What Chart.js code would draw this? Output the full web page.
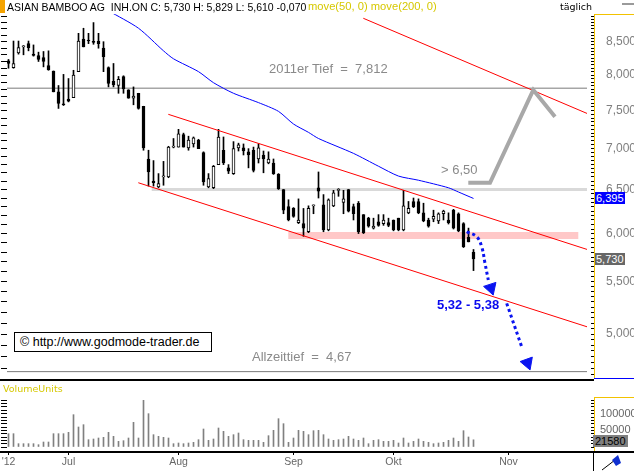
<!DOCTYPE html>
<html>
<head>
<meta charset="utf-8">
<script src="https://cdn.jsdelivr.net/npm/chart.js@4.4.1/dist/chart.umd.min.js"></script>
<style>
  body { margin: 0; background: #fff; }
  #page { position: relative; width: 634px; height: 471px; overflow: hidden; background: #fff;
          font-family: "Liberation Sans", Arial, sans-serif; }
  .abs { position: absolute; white-space: pre; line-height: 1; z-index: 2; }
  .small { font-family: "DejaVu Sans", sans-serif; font-size: 9.5px; }
  .note { font-size: 13px; color: #8a8a8a; }
  .tag { font-size: 11px; height: 12px; line-height: 12px; padding: 0 1px; }
  canvas { position: absolute; left: 0; }
</style>
</head>
<body>
<div id="page">
  <div class="abs" style="left:0;top:0;width:5px;height:13px;background:#f5a300"></div>
  <div class="abs" style="left:7px;top:2px;color:#000;font-size:10.5px">ASIAN BAMBOO AG  INH.ON C: 5,730 H: 5,829 L: 5,610 -0,070</div>
  <div class="abs" style="left:308px;top:1px;color:#d6c800;font-size:11.2px">move(50, 0) move(200, 0)</div>
  <div class="abs small" style="left:560px;top:2px;color:#000">täglich</div>
  <div class="abs" style="left:622px;top:3px;width:12px;height:2px;background:#9a9a9a"></div>

  <div class="abs" style="left:594px;top:14px;width:40px;height:1px;background:#f2c200"></div>
  <div class="abs" style="left:594px;top:378px;width:40px;height:1px;background:#0000ff"></div>
  <div class="abs" style="left:0;top:379px;width:594px;height:2px;background:#000"></div>
  <div class="abs small" style="left:3px;top:384px;color:#d6c800">VolumeUnits</div>
  <div class="abs" style="left:594px;top:397px;width:40px;height:1px;background:#f2c200"></div>
  <div class="abs" style="left:0;top:451px;width:634px;height:2px;background:#000"></div>
  <div class="abs" style="left:593px;top:451px;width:1px;height:20px;background:#000"></div>
  <svg class="abs" style="left:600px;top:454px" width="30" height="17">
    <line x1="2" y1="16" x2="15" y2="6" stroke="#000" stroke-width="1"/>
    <polygon points="12,6 18,1 21,9 16,12" fill="#1030d0"/>
  </svg>

  <div class="abs note" style="left:269px;top:62px">2011er Tief  =  7,812</div>
  <div class="abs note" style="left:441px;top:163px">&gt; 6,50</div>
  <div class="abs note" style="left:252px;top:350px">Allzeittief  =  4,67</div>
  <div class="abs" style="left:437px;top:298px;font-size:13px;font-weight:bold;color:#0a0aee">5,32 - 5,38</div>
  <div class="abs" style="left:14px;top:332px;width:191px;height:18px;border:1px solid #000;background:#fff;font-size:12.5px;line-height:18px;padding-left:5px;box-sizing:content-box">© http://www.godmode-trader.de</div>

  <div id="tagMa" class="abs tag" style="left:595px;background:#0000ff;color:#fff"></div>
  <div id="tagLast" class="abs tag" style="left:595px;background:#676767;color:#fff"></div>
  <div id="tagVol" class="abs tag" style="left:593px;background:#808080;color:#000;padding:0 2px"></div>

  <canvas id="priceChart" width="634" height="365" style="top:14px"></canvas>
  <canvas id="volChart" width="634" height="89" style="top:382px"></canvas>
</div>
<script>
// trading days from 14 Jun 2012; month labels sit on the first trading day of each month
const monthLabels = ["'12", 'Jul', 'Aug', 'Sep', 'Okt', 'Nov'];
const monthStart = [0, 12, 34, 57, 77, 100];

const opens = [8.21, 8.11, 8.33, 8.42, 8.47, 8.31, 8.29, 8.26, 8.14, 8.06,
  7.76, 7.59, 7.66, 7.68, 8.05, 8.54, 8.52, 8.50, 8.51, 8.40,
  8.11, 7.91, 7.85, 7.98, 7.79, 7.67, 7.74, 7.56, 6.87, 6.60,
  6.53, 6.65, 6.65, 7.02, 7.02, 7.18, 7.01, 7.06, 7.11, 6.95,
  6.53, 6.52, 6.80, 6.98, 6.76, 6.69, 7.01, 7.01, 6.96, 6.98,
  6.87, 6.92, 6.82, 6.82, 6.68, 6.50, 6.30, 6.28, 6.12, 6.11,
  6.02, 6.31, 6.52, 6.32, 6.04, 6.31, 6.49, 6.35, 6.50, 6.30,
  6.34, 6.21, 6.17, 6.06, 6.13, 6.11, 6.12, 6.15, 6.17, 6.04,
  6.23, 6.36, 6.36, 6.23, 6.15, 6.16, 6.14, 6.22, 6.15, 6.26,
  6.22, 6.11, 5.96, 5.80];
const highs = [8.23, 8.51, 8.51, 8.44, 8.51, 8.45, 8.34, 8.35, 8.36, 8.06,
  7.85, 8.01, 7.95, 8.07, 8.63, 8.71, 8.63, 8.80, 8.63, 8.50,
  8.12, 8.17, 7.98, 7.99, 7.79, 7.83, 7.74, 7.56, 6.98, 6.85,
  6.69, 6.84, 7.03, 7.13, 7.25, 7.20, 7.16, 7.15, 7.12, 6.96,
  6.69, 6.79, 7.25, 7.15, 6.80, 7.09, 7.07, 7.06, 7.00, 7.02,
  7.06, 6.97, 6.96, 6.87, 6.69, 6.50, 6.38, 6.29, 6.39, 6.28,
  6.31, 6.32, 6.71, 6.44, 6.39, 6.49, 6.51, 6.49, 6.50, 6.33,
  6.36, 6.21, 6.18, 6.17, 6.21, 6.21, 6.17, 6.15, 6.17, 6.49,
  6.36, 6.40, 6.39, 6.34, 6.17, 6.26, 6.23, 6.26, 6.23, 6.27,
  6.23, 6.12, 6.06, 5.829];
const lows = [8.10, 8.10, 8.31, 8.30, 8.36, 8.28, 8.20, 8.12, 8.07, 7.76,
  7.53, 7.57, 7.62, 7.68, 8.05, 8.42, 8.47, 8.46, 8.40, 8.05,
  7.83, 7.83, 7.74, 7.74, 7.67, 7.58, 7.52, 6.98, 6.54, 6.54,
  6.52, 6.55, 6.64, 7.01, 7.02, 7.02, 6.98, 7.02, 7.00, 6.55,
  6.52, 6.51, 6.80, 6.80, 6.69, 6.68, 6.97, 6.92, 6.76, 6.71,
  6.82, 6.70, 6.81, 6.68, 6.50, 6.22, 6.14, 6.18, 6.11, 5.97,
  6.01, 6.22, 6.40, 6.02, 6.03, 6.30, 6.42, 6.22, 6.24, 6.15,
  6.00, 6.00, 6.07, 6.05, 6.08, 6.09, 6.075, 6.03, 6.03, 6.03,
  6.22, 6.29, 6.22, 6.13, 6.07, 6.13, 6.11, 6.15, 6.105, 6.05,
  6.02, 5.85, 5.91, 5.61];
const closes = [8.17, 8.17, 8.41, 8.43, 8.41, 8.29, 8.23, 8.20, 8.08, 7.76,
  7.60, 7.58, 7.63, 8.00, 8.51, 8.42, 8.51, 8.49, 8.47, 8.27,
  7.88, 7.86, 7.94, 7.80, 7.67, 7.70, 7.53, 7.01, 6.71, 6.58,
  6.57, 6.66, 7.02, 7.03, 7.19, 7.02, 7.11, 7.14, 7.00, 6.59,
  6.63, 6.78, 7.15, 6.82, 6.72, 7.00, 7.05, 6.97, 6.92, 6.73,
  7.01, 6.87, 6.87, 6.69, 6.51, 6.26, 6.15, 6.19, 6.15, 6.06,
  6.28, 6.32, 6.48, 6.04, 6.38, 6.46, 6.50, 6.39, 6.25, 6.22,
  6.02, 6.01, 6.08, 6.08, 6.09, 6.15, 6.09, 6.04, 6.04, 6.31,
  6.28, 6.30, 6.23, 6.14, 6.08, 6.19, 6.22, 6.25, 6.12, 6.06,
  6.03, 5.86, 5.91, 5.73];
const volumes = [40000, 40000, 10000, 10000, 10000, 10000, 7000, 15000, 15000, 40000,
  40000, 40000, 44000, 97000, 60000, 67000, 22000, 24000, 27000, 29000,
  44000, 32000, 17000, 19000, 27000, 74000, 27000, 140000, 100000, 37000,
  32000, 29000, 27000, 10000, 12000, 10000, 12000, 14000, 22000, 54000,
  20000, 24000, 57000, 47000, 32000, 37000, 42000, 22000, 20000, 20000,
  20000, 14000, 34000, 50000, 85000, 70000, 14000, 27000, 50000, 47000,
  37000, 49000, 50000, 37000, 24000, 20000, 22000, 24000, 32000, 24000,
  20000, 27000, 10000, 20000, 22000, 17000, 17000, 20000, 12000, 27000,
  12000, 17000, 24000, 17000, 14000, 10000, 12000, 14000, 20000, 27000,
  17000, 49000, 30000, 21580];

// 50-day moving average
const maIndex = [20, 26, 31, 33, 38, 41, 45, 50, 54, 57, 60, 62, 69, 74, 78, 82, 88, 90, 93];
const ma50 = [8.99, 8.71, 8.36, 8.24, 8.05, 7.89, 7.74, 7.61, 7.49, 7.32, 7.21, 7.13, 6.94, 6.78, 6.66, 6.61, 6.52, 6.47, 6.395];

const priceLabels = [5, 5.5, 6, 6.5, 7, 7.5, 8, 8.5];
const volumeLabels = [50000, 100000];

// drawn analysis: [trading-day index, price]
const tief2011 = [[-0.3, 7.812], [115.7, 7.812]];
const allzeittief = [[-0.3, 4.67], [115.7, 4.67]];
const channelUpper = [[31.96, 7.45], [115.7, 5.83]];
const channelLower = [[25.96, 6.58], [115.7, 5.066]];
const channelTop = [[70.96, 8.869], [115.7, 7.462]];
const zone650 = [[28.64, 6.5], [115.7, 6.5]];
const zone600 = [[55.96, 5.98], [113.96, 5.98]];
const pathUp = [[91.96, 6.58], [96.3, 6.58], [104.96, 7.787], [109.3, 7.418]];
const pathDown1 = [[91.64, 6.02], [93.64, 5.965], [94.64, 5.858], [95.3, 5.685], [95.96, 5.515]];
const pathDown2 = [[99.64, 5.286], [102.64, 4.886]];
const arrowHeads = [[96.48, 5.436], [103.8, 4.745]];

const X_MIN = -0.3, X_MAX = 117.1;
const P_MIN = 4.608, P_MAX = 8.938;

Chart.defaults.font.family = '"Liberation Sans", Arial, sans-serif';

const idx = closes.map((_, i) => i);
const xy = (pts) => pts.map(([x, y]) => ({ x, y }));
const fmt = (v, d) => v.toFixed(d).replace('.', ',');

function lineSet(pts, color, width, order, extra) {
    return Object.assign({
        type: 'line', data: xy(pts), borderColor: color, borderWidth: width,
        pointRadius: 0, tension: 0, fill: false, order,
    }, extra || {});
}

const rightTicks = [];
for (let v = 465; v <= 890; v += 5) rightTicks.push(v / 100);
const leftTicks = [];
for (let v = 47; v <= 89; v++) leftTicks.push(v / 10);

function yAxis(side, ticks, labels) {
    const right = side === 'right';
    return {
        type: 'logarithmic', position: side, min: P_MIN, max: P_MAX, bounds: 'data',
        afterBuildTicks: (s) => { s.ticks = ticks.map((v) => ({ value: v })); },
        afterFit: (s) => { s.width = right ? 40 : 7; s.paddingTop = 0; s.paddingBottom = 0; },
        ticks: {
            autoSkip: false, padding: right ? 15 : 0, color: '#7f7f7f', font: { size: 12 },
            callback: (v) => (labels && labels.includes(Math.round(v * 100) / 100) ? fmt(v, 3) : ''),
        },
        grid: { drawOnChartArea: false, tickLength: right ? -3 : 6, color: '#000' },
        border: { display: right, color: '#f2c200', width: 1 },
    };
}

const xBase = { type: 'linear', min: X_MIN, max: X_MAX, bounds: 'data', offset: false };

const priceChart = new Chart(document.getElementById('priceChart'), {
    type: 'bar',
    data: {
        datasets: [
            {
                type: 'bar', data: idx.map((i) => ({ x: i, y: [opens[i], closes[i]] })),
                backgroundColor: idx.map((i) => (closes[i] >= opens[i] ? '#fff' : '#000')),
                borderColor: '#000', borderWidth: 1, borderSkipped: false,
                barThickness: 3, minBarLength: 1, grouped: false, order: 0,
            },
            {
                type: 'bar', data: idx.map((i) => ({ x: i, y: [lows[i], highs[i]] })),
                backgroundColor: '#000', barThickness: 1, grouped: false, order: 1,
            },
            lineSet(zone600, '#ffc8c8', 7, 10),
            lineSet(zone650, '#d9d9d9', 3, 10),
            lineSet(tief2011, '#7a7a7a', 1, 6),
            lineSet(allzeittief, '#7a7a7a', 1, 6),
            lineSet(maIndex.map((x, k) => [x, ma50[k]]), '#0000ff', 1, 5, { tension: 0.25 }),
            lineSet(channelUpper, '#ff0000', 1, -1),
            lineSet(channelLower, '#ff0000', 1, -1),
            lineSet(channelTop, '#ff0000', 1, -1),
            lineSet(pathUp, '#a8a8a8', 4, -2, { borderJoinStyle: 'miter' }),
            lineSet(pathDown1, '#0a14f0', 3, -3, { borderDash: [3, 3], tension: 0.4 }),
            lineSet(pathDown2, '#0a14f0', 3, -3, { borderDash: [3, 3] }),
            {
                type: 'line', data: xy(arrowHeads), showLine: false, order: -4,
                pointStyle: 'triangle', pointRadius: 7.5, pointRotation: [162, 160],
                pointBackgroundColor: '#0a14f0', pointBorderColor: '#0a14f0', pointBorderWidth: 1,
            },
        ],
    },
    options: {
        responsive: false, animation: false, devicePixelRatio: 1,
        layout: { padding: 0, autoPadding: false },
        plugins: { legend: { display: false }, tooltip: { enabled: false } },
        scales: {
            x: Object.assign({}, xBase, { display: false, grid: { offset: false } }),
            y: yAxis('right', rightTicks, priceLabels),
            yl: yAxis('left', leftTicks, null),
        },
    },
});

const volTicks = [];
for (let v = 0; v <= 140000; v += 10000) volTicks.push(v);

function volAxis(side) {
    const right = side === 'right';
    return {
        type: 'linear', position: side, min: -15000, max: 150000, bounds: 'data', beginAtZero: false,
        afterBuildTicks: (s) => { s.ticks = volTicks.map((v) => ({ value: v })); },
        afterFit: (s) => { s.width = right ? 40 : 7; s.paddingTop = 0; s.paddingBottom = 0; },
        ticks: {
            autoSkip: false, padding: right ? 9 : 0, color: '#666', font: { size: 11 },
            callback: (v) => (right && volumeLabels.includes(v) ? String(v) : ''),
        },
        grid: { drawOnChartArea: false, tickLength: right ? -3 : 6, color: '#000' },
        border: { display: right, color: '#f2c200', width: 1 },
    };
}

new Chart(document.getElementById('volChart'), {
    type: 'bar',
    data: {
        datasets: [{
            data: idx.map((i) => ({ x: i, y: volumes[i] })),
            backgroundColor: '#808080', barThickness: 1, grouped: false,
        }],
    },
    options: {
        responsive: false, animation: false, devicePixelRatio: 1,
        layout: { padding: { top: 15 }, autoPadding: false },
        plugins: { legend: { display: false }, tooltip: { enabled: false } },
        scales: {
            x: Object.assign({}, xBase, {
                afterBuildTicks: (s) => { s.ticks = monthStart.map((v) => ({ value: v })); },
                afterFit: (s) => { s.height = 19; s.paddingLeft = 0; s.paddingRight = 0; },
                ticks: {
                    autoSkip: false, maxRotation: 0, padding: 1, color: '#666', font: { size: 10.5 },
                    callback: (v, i) => monthLabels[i],
                },
                grid: { offset: false, drawOnChartArea: false, tickLength: 3, color: '#000' },
                border: { display: false },
            }),
            y: volAxis('right'),
            yl: volAxis('left'),
        },
    },
});

// value tags on the right axis, placed through the chart scales
const yS = priceChart.scales.y;
function tag(id, text, top) {
    const el = document.getElementById(id);
    el.textContent = text;
    el.style.top = Math.round(top) + 'px';
}
tag('tagMa', fmt(ma50[ma50.length - 1], 3), 14 + yS.getPixelForValue(ma50[ma50.length - 1]) - 6);
tag('tagLast', fmt(closes[closes.length - 1], 3), 14 + yS.getPixelForValue(closes[closes.length - 1]) - 6);
tag('tagVol', String(volumes[volumes.length - 1]), 435);
</script>
</body>
</html>
